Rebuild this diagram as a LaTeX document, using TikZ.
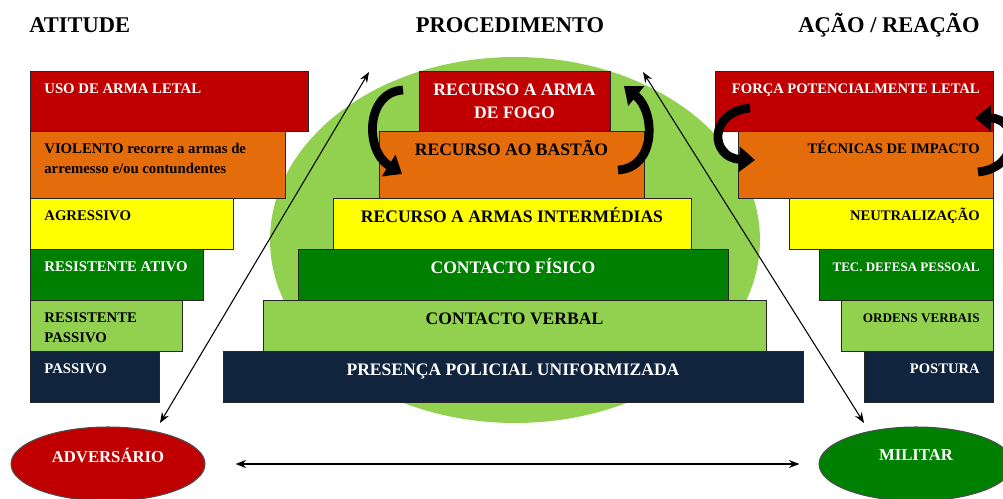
\documentclass[tikz,border=0pt]{standalone}
\usepackage{fontspec}
\setmainfont{Liberation Serif}
\usetikzlibrary{arrows.meta,fit,shapes.geometric}

\definecolor{cRed}{HTML}{C00000}
\definecolor{cOrange}{HTML}{E46C0A}
\definecolor{cYellow}{HTML}{FFFF00}
\definecolor{cDark}{HTML}{008000}
\definecolor{cLight}{HTML}{92D050}
\definecolor{cNavy}{HTML}{10243E}

\begin{document}
\begin{tikzpicture}[x=0.02cm, y=-0.02cm,
    tier/.style={draw=black!85, line width=0.5pt, inner sep=0pt},
    lefttxt/.style={anchor=base west, inner sep=0pt, text width=6cm, align=flush left, font=\bfseries\fontsize{8.4}{11.3}\selectfont},
    midtxt/.style={anchor=base, inner sep=0pt, text width=8cm, align=flush center, font=\bfseries\fontsize{10}{13}\selectfont},
    righttxt/.style={anchor=base east, inner sep=0pt, text width=6cm, align=flush right, font=\bfseries\fontsize{8.3}{10}\selectfont},
    title/.style={anchor=base, inner sep=0pt, font=\bfseries\fontsize{12.8}{15}\selectfont},
    oval/.style={ellipse, draw=black!70, line width=0.6pt, inner sep=0pt, minimum width=3.88cm, minimum height=1.48cm, text=white, font=\bfseries\fontsize{9.5}{11}\selectfont},
    link/.style={{Stealth[length=6pt,width=4.5pt]}-{Stealth[length=6pt,width=4.5pt]}, line width=0.6pt},
    swirl/.style={-{Triangle[length=9pt,width=14pt]}, line width=5pt}
  ]
  \useasboundingbox (0,0) rectangle (1003,499);

  % column titles
  \node[title, anchor=base west] (tAtt) at (29,33) {ATITUDE};
  \node[title] (tProc) at (510,33) {PROCEDIMENTO};
  \node[title, anchor=base east] (tAcao) at (980,33) {AÇÃO / REAÇÃO};

  % green backdrop behind the pyramid
  \node[ellipse, fill=cLight, inner sep=0pt, minimum width=9.8cm, minimum height=7.32cm] (bg) at (515,240) {};

  % attitude of the adversary (left steps)
  \foreach \n/\ya/\yb/\xb/\col/\tc/\txt in {
      1/71/131/308/cRed/white/{USO DE ARMA LETAL},
      2/131/198/285/cOrange/black/{VIOLENTO recorre a armas de\\arremesso e/ou contundentes},
      3/198/249/233/cYellow/black/{AGRESSIVO},
      4/249/300/203/cDark/white/{RESISTENTE ATIVO},
      5/300/351/182/cLight/black/{RESISTENTE\\PASSIVO},
      6/351/402/159/cNavy/white/{PASSIVO}} {
    \node[tier, fill=\col, fit={(30,\ya) (\xb,\yb)}] (A\n) {};
    \node[lefttxt, text=\tc] (At\n) at (44,\ya+23) {\txt};
  }

  % procedure (central pyramid)
  \foreach \n/\ya/\yb/\xa/\xb/\col/\tc/\txt in {
      1/71/131/419/610/cRed/white/{RECURSO A ARMA\\DE FOGO},
      2/131/198/379/644/cOrange/black/{RECURSO AO BASTÃO},
      3/198/249/333/691/cYellow/black/{RECURSO A ARMAS INTERMÉDIAS},
      4/249/300/298/728/cDark/white/{CONTACTO FÍSICO},
      5/300/351/263/766/cLight/black/{CONTACTO VERBAL},
      6/351/402/223/803/cNavy/white/{PRESENÇA POLICIAL UNIFORMIZADA}} {
    \node[tier, fill=\col, fit={(\xa,\ya) (\xb,\yb)}] (P\n) {};
    \node[midtxt, text=\tc] (Pt\n) at ({(\xa+\xb)/2},\ya+25) {\txt};
  }

  % action / reaction (right steps)
  \foreach \n/\ya/\yb/\xa/\col/\tc/\txt in {
      1/71/131/715/cRed/white/{FORÇA POTENCIALMENTE LETAL},
      2/131/198/738/cOrange/black/{TÉCNICAS DE IMPACTO},
      3/198/249/789/cYellow/black/{NEUTRALIZAÇÃO},
      4/249/300/819/cDark/white/{\fontsize{7.4}{9}\selectfont TEC. DEFESA PESSOAL},
      5/300/351/841/cLight/black/{\fontsize{7.5}{9}\selectfont ORDENS VERBAIS},
      6/351/402/864/cNavy/white/{POSTURA}} {
    \node[tier, fill=\col, fit={(\xa,\ya) (993,\yb)}] (R\n) {};
    \node[righttxt, text=\tc] (Rt\n) at (980,\ya+23) {\txt};
  }

  % the two parties
  \node[oval, fill=cRed] (adv) at (108,464) {\raisebox{10pt}{ADVERSÁRIO}};
  \node[oval, fill=cDark] (mil) at (916,464) {\raisebox{10pt}{MILITAR}};

  % curved escalation arrows
  \coordinate (s1a) at (403,90);  \coordinate (s1b) at (402,174);
  \coordinate (s2a) at (618,170); \coordinate (s2b) at (624,86);
  \coordinate (s3a) at (750,108); \coordinate (s3b) at (755,160);
  \coordinate (s4a) at (978,172); \coordinate (s4b) at (975,118);
  \draw[swirl] (s1a) .. controls (366,92) and (364,150) .. (s1b);
  \draw[swirl] (s2a) .. controls (656,168) and (656,112) .. (s2b);
  \draw[swirl] (s3a) .. controls (708,112) and (710,158) .. (s3b);
  \draw[swirl] (s4a) .. controls (1020,168) and (1020,118) .. (s4b);

  % diagonals and base line
  \coordinate (lTop) at (369,72); \coordinate (lBot) at (160,423);
  \coordinate (rTop) at (643,72); \coordinate (rBot) at (864,423);
  \draw[link] (lTop) -- (lBot);
  \draw[link] (rTop) -- (rBot);
  \draw[link, line width=1.1pt, shorten <=0.6cm, shorten >=0.38cm] (adv) -- (mil);

\end{tikzpicture}
\end{document}
